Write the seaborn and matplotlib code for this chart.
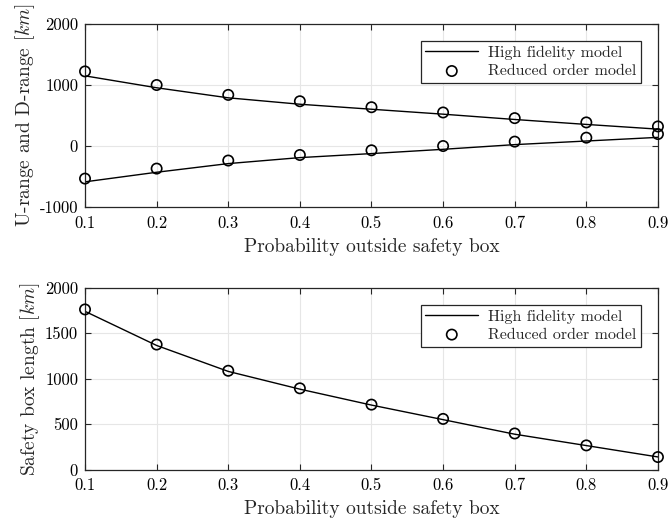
import matplotlib
matplotlib.use("Agg")
import matplotlib.pyplot as plt
import seaborn as sns
import pandas as pd

# ---- data ----
prob = [0.1, 0.2, 0.3, 0.4, 0.5, 0.6, 0.7, 0.8, 0.9]
u_range_hf = [1150, 955, 790, 685, 603, 522, 435, 354, 277]
d_range_hf = [-587, -430, -288, -190, -124, -54, 23, 82, 142]
u_range_rom = [1223, 1000, 838, 734, 636, 550, 457, 387, 321]
d_range_rom = [-534, -370, -238, -147, -70, 0, 72, 137, 196]
box_hf = [1740, 1365, 1080, 885, 710, 550, 390, 265, 140]
box_rom = [1761, 1375, 1087, 894, 715, 558, 398, 267, 139]

x_ticks = [0.1, 0.2, 0.3, 0.4, 0.5, 0.6, 0.7, 0.8, 0.9]
x_ticklabels = ["0.1", "0.2", "0.3", "0.4", "0.5", "0.6", "0.7", "0.8", "0.9"]
y1_ticks = [-1000, 0, 1000, 2000]
y1_ticklabels = ["-1000", "0", "1000", "2000"]
y2_ticks = [0, 500, 1000, 1500, 2000]
y2_ticklabels = ["0", "500", "1000", "1500", "2000"]

xlabel = "Probability outside safety box"
ylabel1 = r"U-range and D-range $[km]$"
ylabel2 = r"Safety box length $[km]$"
legend_labels = ["High fidelity model", "Reduced order model"]

sns.set_theme(style="whitegrid")
plt.rcParams["font.family"] = ["cmr10", "DejaVu Serif"]
plt.rcParams["mathtext.fontset"] = "cm"
plt.rcParams["axes.formatter.use_mathtext"] = True

fig = plt.figure(figsize=(6.7, 5.22), dpi=100)
ax1 = fig.add_axes([0.1269, 0.6034, 0.982 - 0.1269, 0.954 - 0.6034])
ax2 = fig.add_axes([0.1269, 0.1002, 0.982 - 0.1269, 0.4489 - 0.1002])

edge = "#262626"
tick_fs = 12
label_fs = 14
leg_fs = 11.5


def style(ax, yticks, yticklabels, ylim, ylabel):
    ax.set_xlim(0.1, 0.9)
    ax.set_ylim(*ylim)
    ax.set_xticks(x_ticks)
    ax.set_xticklabels(x_ticklabels, fontsize=tick_fs)
    ax.set_yticks(yticks)
    ax.set_yticklabels(yticklabels, fontsize=tick_fs)
    ax.set_xlabel(xlabel, fontsize=label_fs, labelpad=5)
    ax.set_ylabel(ylabel, fontsize=label_fs, labelpad=2)
    ax.grid(True, color="#e6e6e6", linewidth=0.8)
    ax.set_facecolor("white")
    for s in ax.spines.values():
        s.set_color(edge)
        s.set_linewidth(0.9)
        s.set_visible(True)
    ax.tick_params(direction="in", length=4, width=0.8, colors=edge,
                   top=True, right=True, bottom=True, left=True, pad=6,
                   labelcolor="black")
    ax.tick_params(axis="y", pad=5)
    leg = ax.legend(handles=ax.get_legend_handles_labels()[0][:2],
                    labels=legend_labels, loc="upper right",
                    bbox_to_anchor=(0.970, 0.907), fontsize=leg_fs,
                    frameon=True, fancybox=False, framealpha=1,
                    edgecolor=edge, borderpad=0.3, handlelength=3.3,
                    handletextpad=0.6, labelspacing=0.25, borderaxespad=0)
    leg.get_frame().set_linewidth(0.9)


df = pd.DataFrame({"p": prob, "u_hf": u_range_hf, "d_hf": d_range_hf,
                   "u_rom": u_range_rom, "d_rom": d_range_rom,
                   "b_hf": box_hf, "b_rom": box_rom})

mk = dict(marker="o", s=55, facecolor="none", edgecolor="black",
          linewidth=1.2, zorder=3, clip_on=False)

sns.lineplot(data=df, x="p", y="u_hf", ax=ax1, color="black", linewidth=1.0,
             label=legend_labels[0])
sns.scatterplot(data=df, x="p", y="u_rom", ax=ax1, label=legend_labels[1], **mk)
sns.lineplot(data=df, x="p", y="d_hf", ax=ax1, color="black", linewidth=1.0)
sns.scatterplot(data=df, x="p", y="d_rom", ax=ax1, **mk)
style(ax1, y1_ticks, y1_ticklabels, (-1000, 2000), ylabel1)

sns.lineplot(data=df, x="p", y="b_hf", ax=ax2, color="black", linewidth=1.0,
             label=legend_labels[0])
sns.scatterplot(data=df, x="p", y="b_rom", ax=ax2, label=legend_labels[1], **mk)
style(ax2, y2_ticks, y2_ticklabels, (0, 2000), ylabel2)

fig.savefig("out.png", dpi=100, facecolor="white")
